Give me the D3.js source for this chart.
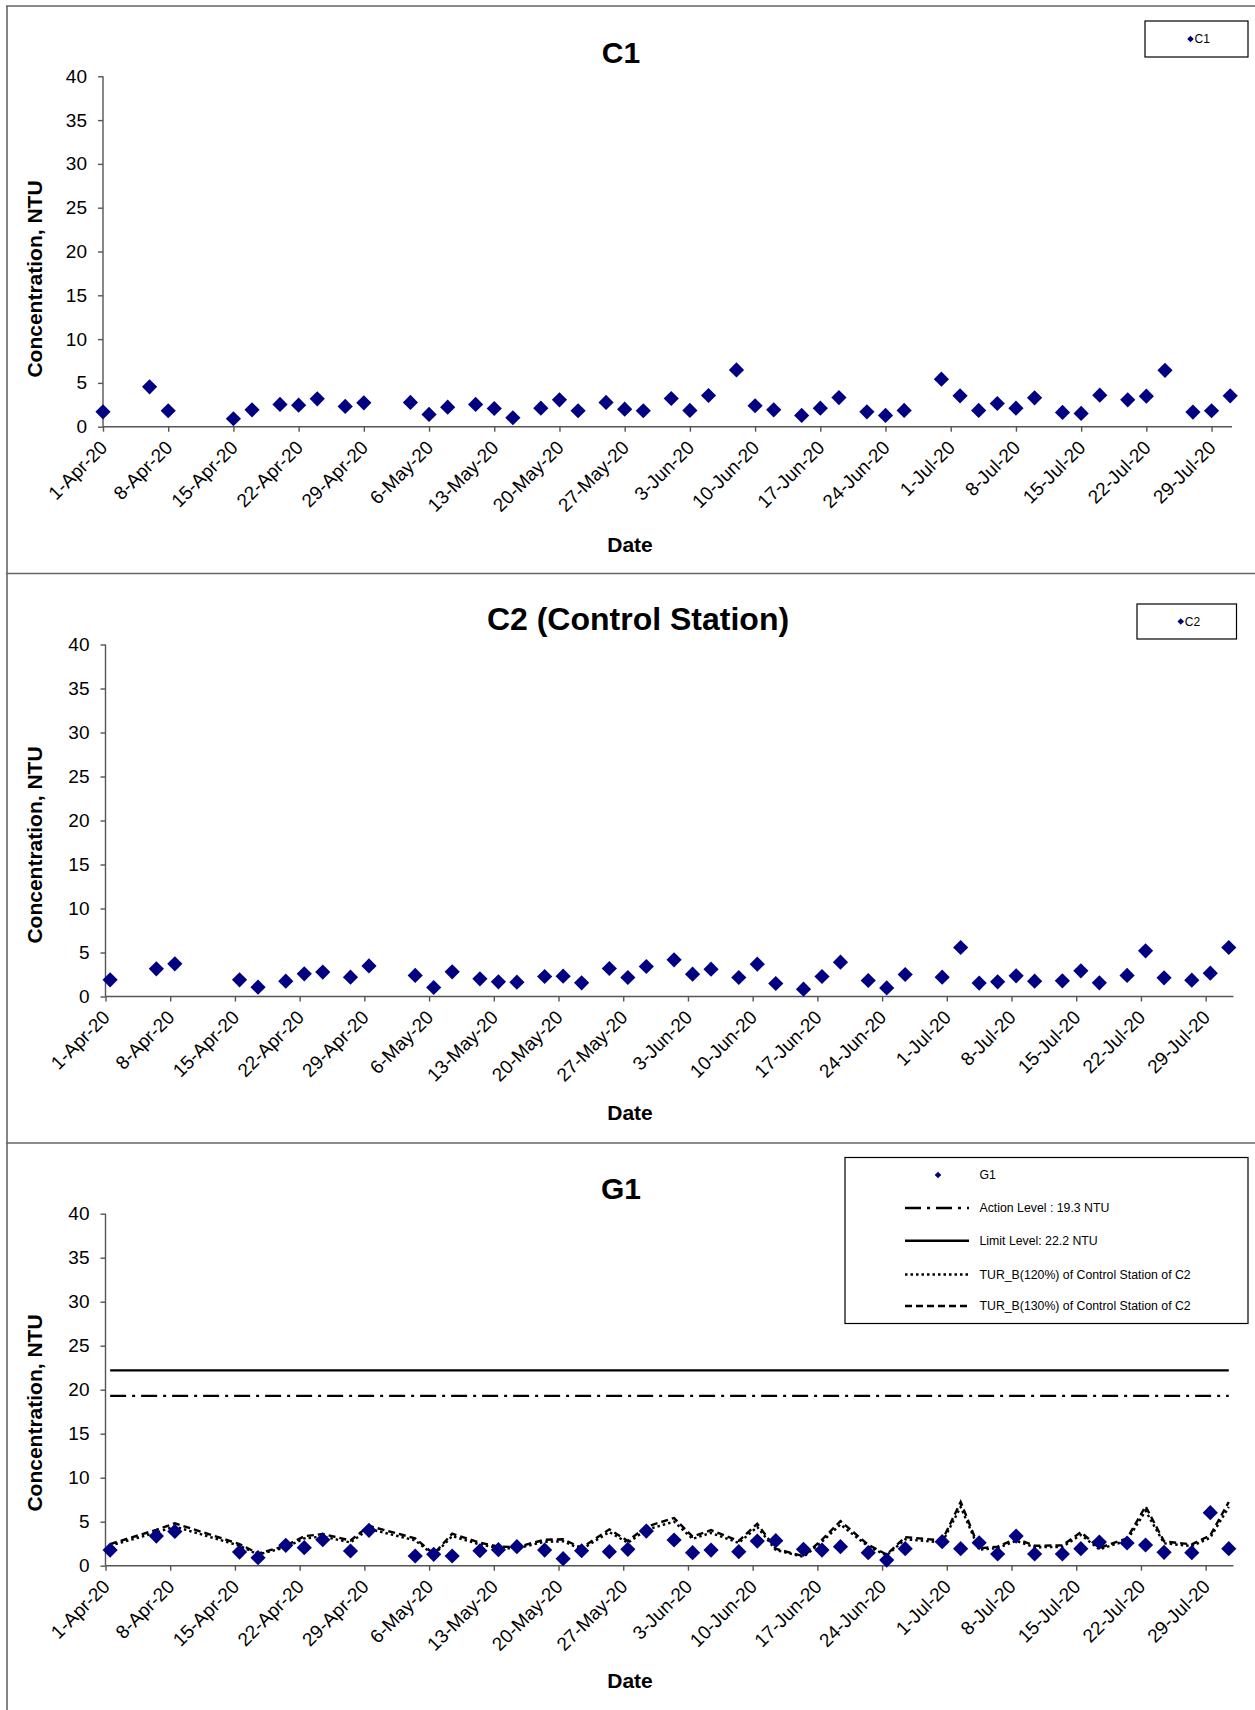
<!DOCTYPE html>
<html>
<head>
<meta charset="utf-8">
<script src="https://cdn.jsdelivr.net/npm/d3@7"></script>
<style>
  html, body { margin: 0; padding: 0; background: #fff; }
  svg { display: block; font-family: "Liberation Sans", Arial, sans-serif; }
</style>
</head>
<body>
<svg id="chart" width="1255" height="1710"></svg>
<script>
// ---------------- DATA ----------------
const sampleDates = [
  "2020-04-01","2020-04-06","2020-04-08","2020-04-15","2020-04-17","2020-04-20","2020-04-22","2020-04-24","2020-04-27","2020-04-29",
  "2020-05-04","2020-05-06","2020-05-08","2020-05-11","2020-05-13","2020-05-15","2020-05-18","2020-05-20","2020-05-22","2020-05-25","2020-05-27","2020-05-29",
  "2020-06-01","2020-06-03","2020-06-05","2020-06-08","2020-06-10","2020-06-12","2020-06-15","2020-06-17","2020-06-19","2020-06-22","2020-06-24","2020-06-26","2020-06-30",
  "2020-07-02","2020-07-04","2020-07-06","2020-07-08","2020-07-10","2020-07-13","2020-07-15","2020-07-17","2020-07-20","2020-07-22","2020-07-24","2020-07-27","2020-07-29","2020-07-31"
];
const c1Values = [
  1.70, 4.55, 1.82, 0.91, 1.93, 2.54, 2.46, 3.18, 2.31, 2.73,
  2.77, 1.40, 2.23, 2.54, 2.08, 1.02, 2.12, 3.07, 1.82, 2.77, 2.00, 1.82,
  3.22, 1.86, 3.56, 6.48, 2.39, 1.93, 1.29, 2.12, 3.33, 1.70, 1.29, 1.86, 5.42,
  3.52, 1.86, 2.65, 2.12, 3.30, 1.63, 1.52, 3.60, 3.07, 3.48, 6.44, 1.67, 1.82, 3.52
];
const c2Values = [
  1.89, 3.14, 3.71, 1.89, 1.06, 1.74, 2.58, 2.77, 2.20, 3.48,
  2.39, 1.02, 2.80, 2.01, 1.67, 1.63, 2.27, 2.31, 1.55, 3.18, 2.16, 3.41,
  4.17, 2.54, 3.11, 2.16, 3.67, 1.48, 0.83, 2.27, 3.90, 1.82, 0.98, 2.50, 2.20,
  5.57, 1.52, 1.67, 2.35, 1.74, 1.78, 2.92, 1.55, 2.39, 5.19, 2.12, 1.86, 2.65, 5.57
];
const g1Values = [
  1.78, 3.37, 3.90, 1.55, 0.91, 2.31, 2.05, 2.95, 1.67, 4.02,
  1.10, 1.29, 1.10, 1.70, 1.82, 2.16, 1.78, 0.80, 1.70, 1.59, 1.86, 3.94,
  2.92, 1.48, 1.78, 1.59, 2.80, 2.84, 1.86, 1.78, 2.16, 1.48, 0.64, 1.93, 2.73,
  1.93, 2.61, 1.33, 3.37, 1.33, 1.33, 1.93, 2.69, 2.58, 2.35, 1.52, 1.48, 6.02, 1.93
];
const tur120Values = [
  2.27, 3.77, 4.45, 2.27, 1.27, 2.09, 3.10, 3.32, 2.64, 4.18,
  2.87, 1.22, 3.36, 2.41, 2.00, 1.96, 2.72, 2.77, 1.86, 3.82, 2.59, 4.09,
  5.00, 3.05, 3.73, 2.59, 4.40, 1.78, 1.00, 2.72, 4.68, 2.18, 1.18, 3.00, 2.64,
  6.68, 1.82, 2.00, 2.82, 2.09, 2.14, 3.50, 1.86, 2.87, 6.23, 2.54, 2.23, 3.18, 6.68
];
const tur130Values = [
  2.46, 4.08, 4.82, 2.46, 1.38, 2.26, 3.35, 3.60, 2.86, 4.52,
  3.11, 1.33, 3.64, 2.61, 2.17, 2.12, 2.95, 3.00, 2.02, 4.13, 2.81, 4.43,
  5.42, 3.30, 4.04, 2.81, 4.77, 1.92, 1.08, 2.95, 5.07, 2.37, 1.27, 3.25, 2.86,
  7.24, 1.98, 2.17, 3.06, 2.26, 2.31, 3.80, 2.02, 3.11, 6.75, 2.76, 2.42, 3.45, 7.24
];
const actionLevel = 19.3;
const limitLevel = 22.2;
const yTickValues = [0, 5, 10, 15, 20, 25, 30, 35, 40];
const xTickDates = [
  "2020-04-01","2020-04-08","2020-04-15","2020-04-22","2020-04-29","2020-05-06","2020-05-13","2020-05-20","2020-05-27",
  "2020-06-03","2020-06-10","2020-06-17","2020-06-24","2020-07-01","2020-07-08","2020-07-15","2020-07-22","2020-07-29"
];
const g1LegendLabels = ["G1", "Action Level : 19.3 NTU", "Limit Level: 22.2 NTU",
  "TUR_B(120%) of Control Station of C2", "TUR_B(130%) of Control Station of C2"];

// ---------------- RENDER ----------------
const parse = d3.utcParse("%Y-%m-%d");
const fmt = d3.utcFormat("%-d-%b-%y");
const svg = d3.select("#chart");
const NAVY = "#000080";
const AXIS = "#555";

// panel frames
svg.append("line").attr("x1", 7).attr("x2", 7).attr("y1", 6).attr("y2", 1710).attr("stroke", "#666").attr("stroke-width", 1.6);
[6, 573.5, 1143].forEach(y => svg.append("line").attr("x1", 6).attr("x2", 1255).attr("y1", y).attr("y2", y).attr("stroke", "#666").attr("stroke-width", 1.6));

function diamond(r) { return `M0,${-r}L${r},0L0,${r}L${-r},0Z`; }

function drawPanel(cfg) {
  const g = svg.append("g");
  const x = d3.scaleUtc().domain([parse(cfg.dStart), parse(cfg.dEnd)]).range([cfg.x0, cfg.x1]);
  const y = d3.scaleLinear().domain([0, 40]).range([cfg.yBottom, cfg.yTop]);
  const shift = d => new Date(parse(d).getTime() + cfg.offsetH * 3600e3);

  // y axis
  const ya = g.append("g").attr("transform", `translate(${cfg.x0},0)`)
    .call(d3.axisLeft(y).tickValues(yTickValues).tickSize(5).tickPadding(11).tickFormat(d3.format("d")));
  ya.select(".domain").attr("stroke", AXIS).attr("stroke-width", 1.4).attr("d", `M0,${cfg.yTop}V${cfg.yBottom}`);
  ya.selectAll(".tick line").attr("stroke", AXIS).attr("stroke-width", 1.4);
  ya.selectAll(".tick text").attr("font-size", 19).attr("font-family", "Liberation Sans, Arial").attr("fill", "#000");

  // x axis
  const xa = g.append("g").attr("transform", `translate(0,${cfg.yBottom})`)
    .call(d3.axisBottom(x).tickValues(xTickDates.map(parse)).tickSize(5).tickFormat(fmt));
  xa.select(".domain").attr("stroke", AXIS).attr("stroke-width", 1.4).attr("d", `M${cfg.x0},0H${cfg.axisEnd}`);
  xa.selectAll(".tick line").attr("stroke", AXIS).attr("stroke-width", 1.4);
  xa.selectAll(".tick text")
    .attr("font-size", 19).attr("font-family", "Liberation Sans, Arial").attr("fill", "#000")
    .attr("text-anchor", "end").attr("y", 0).attr("dy", 0)
    .attr("transform", "translate(5,22) rotate(-45)");

  // titles
  g.append("text").attr("x", cfg.titleX).attr("y", cfg.titleY).attr("text-anchor", "middle")
    .attr("font-size", cfg.titleSize).attr("font-weight", "bold").text(cfg.title);
  g.append("text").attr("transform", `translate(35,${cfg.yTitleY}) rotate(-90)`).attr("dy", "0.35em")
    .attr("text-anchor", "middle").attr("font-size", 21).attr("font-weight", "bold").text("Concentration, NTU");
  g.append("text").attr("x", 630).attr("y", cfg.dateY).attr("text-anchor", "middle")
    .attr("font-size", 21).attr("font-weight", "bold").text("Date");

  if (cfg.extra) cfg.extra(g, x, y, shift);

  // markers
  g.append("g").selectAll("path").data(cfg.values).join("path")
    .attr("d", diamond(7.6)).attr("fill", NAVY)
    .attr("transform", (v, i) => `translate(${x(shift(sampleDates[i]))},${y(v)})`);
}

// C1
drawPanel({
  title: "C1", titleSize: 30, values: c1Values, dStart: "2020-04-01", dEnd: "2020-07-31",
  x0: 103, x1: 1230.2, axisEnd: 1232, offsetH: 0,
  yTop: 76.3, yBottom: 426.7, titleX: 621, titleY: 63, yTitleY: 279, dateY: 552
});
// C2
drawPanel({
  title: "C2 (Control Station)", titleSize: 32, values: c2Values, dStart: "2020-04-01", dEnd: "2020-08-01",
  x0: 105.5, x1: 1233.4, axisEnd: 1233.4, offsetH: 12,
  yTop: 644.5, yBottom: 996.5, titleX: 638, titleY: 630, yTitleY: 845, dateY: 1120
});
// G1
drawPanel({
  title: "G1", titleSize: 30, values: g1Values, dStart: "2020-04-01", dEnd: "2020-08-01",
  x0: 105.5, x1: 1233.4, axisEnd: 1233.4, offsetH: 12,
  yTop: 1213.7, yBottom: 1565.7, titleX: 621, titleY: 1199, yTitleY: 1413, dateY: 1688,
  extra: (g, x, y, shift) => {
    const xs = x(shift(sampleDates[0])), xe = x(shift(sampleDates[sampleDates.length - 1]));
    g.append("line").attr("x1", xs).attr("x2", xe).attr("y1", y(limitLevel)).attr("y2", y(limitLevel))
      .attr("stroke", "#000").attr("stroke-width", 2.4);
    g.append("line").attr("x1", xs).attr("x2", xe).attr("y1", y(actionLevel)).attr("y2", y(actionLevel))
      .attr("stroke", "#000").attr("stroke-width", 2.4).attr("stroke-dasharray", "16,6,3,6");
    const line = d3.line().x((v, i) => x(shift(sampleDates[i]))).y(v => y(v));
    g.append("path").datum(tur120Values).attr("d", line).attr("fill", "none")
      .attr("stroke", "#000").attr("stroke-width", 2.4).attr("stroke-dasharray", "2.5,3");
    g.append("path").datum(tur130Values).attr("d", line).attr("fill", "none")
      .attr("stroke", "#000").attr("stroke-width", 2.4).attr("stroke-dasharray", "7,4");
  }
});

// Legends
function simpleLegend(bx, by, bw, bh, label) {
  const g = svg.append("g");
  g.append("rect").attr("x", bx).attr("y", by).attr("width", bw).attr("height", bh)
    .attr("fill", "#fff").attr("stroke", "#000").attr("stroke-width", 1.2);
  const cx = bx + bw / 2 - 6, cy = by + bh / 2;
  g.append("path").attr("d", diamond(3.3)).attr("fill", NAVY).attr("transform", `translate(${cx},${cy})`);
  g.append("text").attr("x", cx + 4).attr("y", cy).attr("dy", "0.35em").attr("font-size", 12).text(label);
}
simpleLegend(1145, 21, 103, 36, "C1");
simpleLegend(1137, 604, 99.5, 35, "C2");

(function g1Legend() {
  const g = svg.append("g");
  g.append("rect").attr("x", 845).attr("y", 1157.5).attr("width", 403).attr("height", 166)
    .attr("fill", "#fff").attr("stroke", "#000").attr("stroke-width", 1.2);
  const rowsY = [1175, 1208, 1240.7, 1274.5, 1306];
  const lx0 = 905, lx1 = 969;
  g.append("path").attr("d", diamond(3.3)).attr("fill", NAVY).attr("transform", `translate(938,${rowsY[0]})`);
  const styles = [null, "16,6,3,6", null, "2.5,3", "7,4"];
  for (let i = 1; i < 5; i++) {
    const l = g.append("line").attr("x1", lx0).attr("x2", lx1).attr("y1", rowsY[i]).attr("y2", rowsY[i])
      .attr("stroke", "#000").attr("stroke-width", 2.4);
    if (styles[i]) l.attr("stroke-dasharray", styles[i]);
  }
  g1LegendLabels.forEach((t, i) => {
    g.append("text").attr("x", 979.5).attr("y", rowsY[i]).attr("dy", "0.35em").attr("font-size", 12.3).text(t);
  });
})();
</script>
</body>
</html>
